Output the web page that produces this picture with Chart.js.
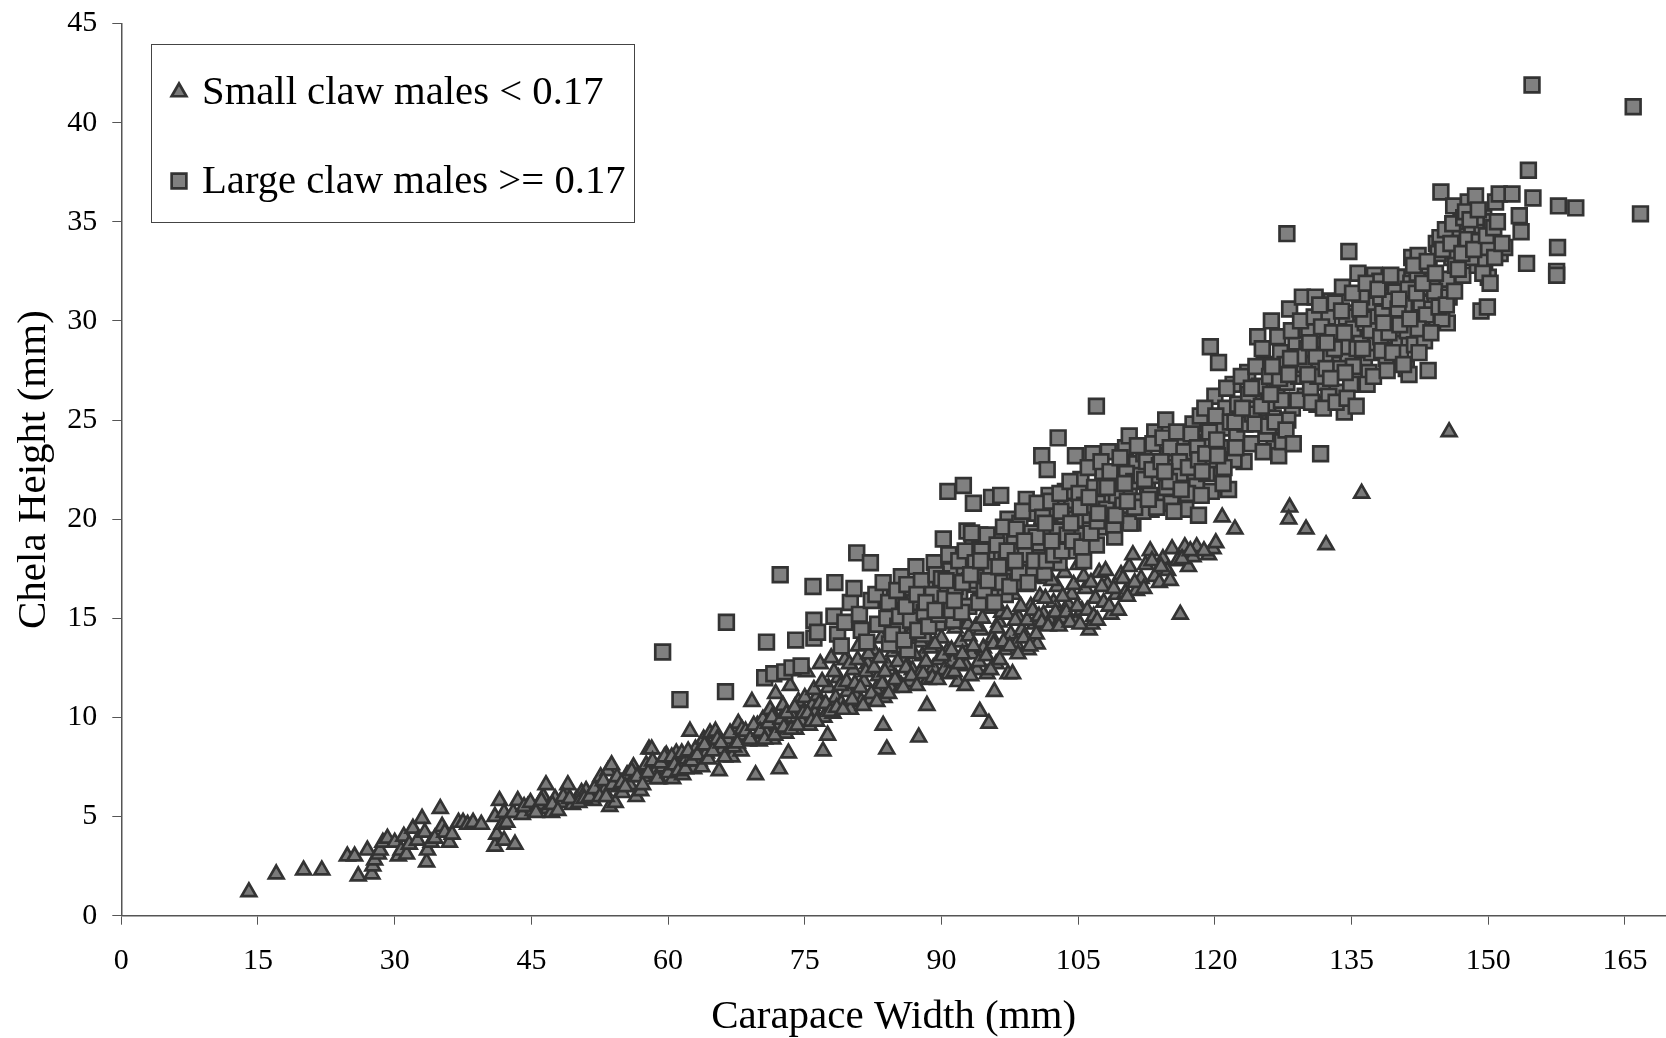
<!DOCTYPE html>
<html>
<head>
<meta charset="utf-8">
<title>Chela height vs carapace width</title>
<script src="https://cdn.jsdelivr.net/npm/chart.js@4/dist/chart.umd.min.js"></script>
<style>
  html, body { margin: 0; padding: 0; background: #fff; overflow: hidden; }
  canvas { display: block; }
</style>
</head>
<body>
<canvas id="claws" width="1666" height="1038"></canvas>
<script>
// Values, [carapace width, chela height]
const smallClaw = [
  [14,1.2],[17,2.1],[20,2.3],[22,2.3],[24.8,3],[25.6,3],[26,2],[27,3.3],[27.5,2.1],[27.6,2.5],[27.8,2.8],[28.2,3.1],[28.4,3.3],[28.7,3.7],[29.2,3.9],[30,3.7],[30.4,3],[30.7,3.3],[31,4],[31.3,3.1],[31.6,3.6],[32,4.4],[32.5,3.8],[33,4.9],[33.3,4.2],[33.5,2.7],[33.6,3.3],[34,3.7],[34.4,3.9],[35,5.4],[35.2,4.5],[35.5,4.2],[36,3.7],[36.3,4.1],[37,4.7],[37.5,4.7],[38,4.6],[38.6,4.7],[39.5,4.6],
  [41,3.5],[41,5],[41.2,4.1],[41.5,5.8],[41.8,4.6],[42,5.2],[42,3.8],[42.3,4.7],[43,5.2],[43.2,3.6],[43.5,5.8],[44,5.1],[44.6,5.5],[45.2,5.3],[45.8,5.6],[46.3,6],[46.6,6.6],[46.8,5.4],[47.2,5.2],[47.6,5.9],[48.2,5.7],[48.8,6.2],[49,6.6],[49.5,5.6],[50,5.9],[50.5,6.2],[51,6.3],
  [51.8,5.8],[52.3,6.6],[52.6,7],[53,6.3],[53.4,7.3],[53.6,5.5],[53.8,7.6],[54.2,5.7],[54.6,6.5],[55,6.2],[55.5,7.1],[55.8,6.6],[56.2,7.5],[56.5,6],[57,6.3],[57.3,7],[57.6,7.6],[57.9,8.4],[58.2,8.4],[58.5,7.2],[59,6.9],[59.4,7.5],[59.8,8.1],[60.2,7.4],[60.5,6.9],[60.9,8.2],[61.2,7.6],[61.6,7.1],[62,7.9],[62.4,9.3],[62.8,7.4],[63,8.4],[63.4,7.8],[63.9,8.9],[64.2,8.2],[64.6,9.2],[65,8.6],[65.2,9.3],[65.6,7.3],[66,8.4],[66.5,8.9],[67,8],[67.4,9.4],[67.7,9.7],[68,8.3],[68.3,9.1],[68.8,8.8],[69.2,10.8],[69.6,7.1],[69.8,9.6],[70,8.8],[70.4,9.9],[70.8,9.2],[71.2,10.4],[71.5,8.9],[71.8,11.2],[72.1,9.6],[72.2,7.4],[72.6,10.6],[72.9,9.2],[73.2,8.2],[73.4,11.6],[73.7,10],[74,9.4],[74.3,10.8],[74.6,9.8],[75,11],[75.2,12.3],[75.5,9.6],[75.8,10.6],[76.1,10.2],[76.4,11.1],[76.7,12.7],[77,8.3],[77.1,10],[77.5,9.1],[77.6,11.5],[77.9,13],[78.1,10.2],[78.4,11],[78.7,12],[79,10.7],[79.4,12.9],[79.7,11.3],[80,10.4],[80.3,12.4],[80.6,11.1],[80.9,13.6],[81.2,10.8],[81.5,11.8],[81.9,12.7],[82.2,10.9],[82.5,13.4],[82.8,11.4],[83.1,12.1],[83.4,14],[83.6,9.6],[83.7,11],[84,8.4],[84.1,12.6],[84.4,11.5],[84.7,13.3],[85,12],[85.3,14.5],[85.6,11.6],[85.9,12.9],[86.2,13.8],[86.5,11.8],[86.8,12.4],[87.1,14.9],[87.5,9],[87.6,12.2],[87.9,13.1],[88.2,14.2],[88.4,10.6],[88.5,11.9],[88.8,13.5],[89.1,12.5],[89.4,15.2],[89.7,12.9],[90,14],[90.3,12.4],[90.6,13.3],[90.9,15.6],[91.2,12.8],[91.5,14.5],[91.8,11.8],[92.1,13.8],[92.4,15],[92.7,12.6],[93,14.1],[93.3,13.2],[93.6,15.9],[93.9,12.4],[94.2,10.3],[94.3,14.4],[94.6,13.5],[95,12.2],[95.2,9.7],[95.3,15.5],[95.6,14],[95.8,11.3],[96,12.7],[96.3,14.8],[96.6,15.3],[97,13.4],[97.3,12.2],[97.6,14.2],[97.9,16.2],[98.2,13.7],[98.5,15],[98.8,14.4],[99.2,16.6],[99.5,13.4],[99.8,15.6],[100.2,14.7],[100.5,13.7],[100.8,16.1],[101.2,15.2],[101.5,17],[101.9,14.9],[102.3,15.8],[102.7,16.6],[103.1,15],[103.5,17.3],[103.9,15.7],[104.3,16.2],[104.7,14.8],[105,17.7],[105.4,15.4],[105.8,16.5],[106.2,14.4],[106.5,14.7],[106.9,16],[107.3,17.3],[107.8,15.8],[108.2,16.7],[108.6,15.2],[109.2,16.2],[109.7,17.2],[110.2,16.3],[110.6,17.6],[111,18.2],[111.4,16.4],[111.9,17],[112.4,17.7],[112.9,18.4],[113.4,17.1],[113.9,16.8],[114.3,18],[114.8,17.4],[115.3,18.5],[115.9,17.9],[116.2,15.2],[116.7,18.6],[117.1,17.6],[117.6,18.1],[118,18.6],[119.3,18.2],[119.8,18.5],[120.1,18.8],[120.8,20.1],[122.2,19.5],[128.2,20.6],[128.1,20],[130,19.5],[132.2,18.7],[136.1,21.3],[145.7,24.4],
  [44.2,5.5],[44.9,5.7],[45.5,5.2],[46.1,5.8],[47.3,5.6],[47.9,5.3],[48.5,6],[49.2,5.9],[50.2,5.7],[50.8,5.9],[51.4,6],[51.9,6.4],[52.5,6],[52.9,6.8],[53.2,6],[53.9,6.6],[54.4,7],[54.9,6.7],[55.3,6.5],[56,7.3],[56.6,7],[57.2,6.6],[57.8,7.2],[58.3,7.8],[58.8,6.9],[59.2,7.7],[59.6,8],[60,7.2],[60.4,8],[60.7,7.6],[61.1,7.3],[61.5,8.2],[61.9,7.4],[62.2,8.3],[62.6,7.8],[63.2,8.1],[63.7,7.5],[64,8.6],[64.4,7.9],[64.9,8.3],[65.4,8.9],[65.8,8.7],[66.2,8],[66.8,9.2],[67.2,8.5],[67.6,8.7],[68.1,9.4],[68.5,9.3],[69,8.9],[69.4,9.6],[70.1,9.3],[70.6,8.9],[71,9.7],[71.4,10],[71.7,9.1],[72.4,9.9],[72.7,9.5],[73,10.2],[73.5,9.4],[73.9,10.5],[74.2,9.6],[74.8,10.2],[75.3,10.2],[75.7,9.8],[76,11.4],[76.3,9.8],[76.6,10.7],[76.9,11.8],[77.3,10.7],[77.8,10.3],[78.2,12.3],[78.5,10.5],[78.9,11.6],[79.2,10.4],[79.6,11.8],[79.9,12.7],[80.2,10.9],[80.5,11.7],[80.8,12.9],[81.1,11.5],[81.4,10.6],[81.7,12.3],[82,13.2],[82.3,11.2],[82.6,12.5],[82.9,10.8],[83.2,13],[83.5,11.7],[83.8,12.3],[84.2,11.2],[84.5,13.8],[84.9,11.9],[85.2,12.8],[85.5,13.5],[85.8,11.5],[86.1,12.5],[86.4,14.1],[86.7,12.1],[87,13.2],[87.3,11.6],[87.7,13.8],[88,12.2],[88.3,12.8],[88.7,14.6],[89,12],[89.3,13.7],[89.6,11.9],[90.1,13.1],[90.4,14.7],[90.8,12.2],[91.1,13.4],[91.4,12.3],[91.7,14.9],[92,12.7],[92.3,13.2],[92.6,11.6],[92.9,14.7],[93.2,12.1],[93.5,13.6],[93.8,14.6],[94.1,12.8],[94.5,15],[94.9,13.1],[95.4,12.4],[95.7,13.7],[96.1,14.5],[96.4,12.9],[96.8,13.8],[97.2,15.2],[97.5,13.6],[97.8,12.2],[98.1,14.9],[98.4,13.2],[98.7,15.6],[99,14],[99.4,14.9],[99.7,13.6],[100,15.4],[100.4,14.2],[100.7,15.1],[101,14.8],[101.4,16],[101.7,14.6],[102.1,16.9],[102.5,15.3],[102.9,14.6],[103.3,16.1],[103.7,15.3],[104.1,14.8],[104.5,16.7],[104.9,15.6],[105.2,14.7],[105.6,17.1],[106,15.4],[106.4,16.8],[106.7,15.1],[107.1,14.9],[107.6,16.6],[108,17.4],[108.4,15.6],[108.9,16.5],[109.4,15.4],[109.9,17],[110.4,16.1],[111.2,16.8],[112.2,16.5],[113.1,17.9],[114.1,17.6],[115.1,16.9],[116.4,18],[117.3,18.4],[118.8,18.4]
];
const largeClaw = [
  [59.4,13.3],[61.3,10.9],[66.3,11.3],[66.4,14.8],[70.6,12],[70.8,13.8],[71.6,12.2],[72.3,17.2],[72.8,12.3],[73.6,12.5],[74,13.9],[74.6,12.6],[75.9,16.6],[76,14],[76,14.9],[76.4,14.3],[78.2,15.1],[78.3,16.8],[78.6,14.2],[79,13.6],[79.4,14.8],[80,15.8],[80.4,16.5],[80.7,18.3],[81,15.2],[81.2,14.4],[81.8,13.8],[82.2,17.8],[82.3,15.9],[82.8,16.2],[83,14.7],[83.6,16.8],[84,15],[84.3,13.7],[84.8,16],[85.2,14.6],[85.6,17.1],[86,15.4],[86.3,13.4],[86.8,16.3],[87.2,17.6],[87.6,15.2],[88,14.2],[88.4,16.8],[88.8,15.6],[89.2,17.8],[89.6,14.8],[89.9,16.5],[90.2,19],[90.7,21.4],[90.7,15.6],[91,17.4],[91.3,14.9],[91.6,18.2],[92,16.2],[92.4,21.7],[92.5,17.6],[92.8,19.4],[93,15.6],[93.5,20.8],[93.4,18.6],[93.8,16.7],[94.2,19.2],[94.5,17.3],[94.8,15.9],[95.2,18.1],[95.5,21.1],[95.6,16.5],[96,19],[96.2,17.2],[96.5,21.2],[96.6,18.3],[97,16.2],[97.3,20],[97.6,17.6],[98,18.9],[98.3,16.8],[98.6,19.8],[99,17.8],[99.3,21],[99.6,18.6],[100,17.2],[100.3,20.3],[100.6,18.2],[101,23.2],[101,19.4],[101.3,17.3],[101.6,22.5],[101.8,21.2],[102.2,18.8],[102.5,20.4],[102.8,24.1],[102.9,17.8],[103.3,19.7],[103.6,21.4],[104,18.4],[104.3,20.6],[104.7,23.2],[105,19.2],[105.3,22],[105.6,17.9],[106,20.2],[106.3,21.2],[106.6,23.3],[107,25.7],[107,18.7],[107.4,20.8],[107.7,22.4],[108,19.6],[108.3,23.4],[108.7,21],[109,19.1],[109.4,22.2],[109.8,20.3],[110.2,23.6],[110.6,24.2],[110.6,21.4],[111,19.8],[111.4,22.8],[111.8,20.9],[112.2,23.3],[112.6,21.7],[113,20.5],[113.4,24.4],[113.8,22.2],[114.2,21.1],[114.6,25],[114.8,23.2],[115.2,20.8],[115.6,22.6],[116,21.6],[116.4,24],[116.8,20.5],[117.2,23.1],[117.6,24.8],[118,21.9],[118.2,20.2],[118.4,25.2],[118.8,22.8],[119.2,23.9],[119.5,28.7],[119.6,21.4],[120,26.2],[120.4,27.9],[120.4,22.4],[120.8,24.6],[121.2,25.6],[121.5,21.5],[121.6,23.5],[122,26.8],[122.4,24.3],[122.8,25.1],[123.2,22.9],[123.6,27.4],[124,23.8],[124.3,26],[124.7,29.2],[125,24.9],[125.4,27.8],[125.8,25.6],[126.2,30],[126.5,23.9],[126.8,26.5],[127,23.2],[127.2,28.4],[127.5,24.7],[127.9,34.4],[127.9,26.9],[128.2,30.6],[128.5,25.6],[128.9,28.8],[129.2,27.2],[129.6,31.2],[129.9,26.2],[130.3,29.6],[130.7,27.7],[131,31.2],[131.2,25.8],[131.6,23.3],[131.6,28.8],[132,26.9],[132.4,30.2],[132.8,31],[133,27.8],[133.4,26.4],[133.8,29.2],[134,31.7],[134.2,25.4],[134.7,33.5],[134.6,28.1],[135,30.4],[135.4,27.1],[135.7,32.4],[136,29.2],[136.4,27.8],[136.8,30.8],[137.2,28.4],[137.5,32.3],[137.8,29.7],[138.2,31.2],[138.6,28.7],[139,30],[139.4,27.9],[139.8,31.5],[140.2,29],[140.6,32.2],[141,27.6],[141.2,30.4],[141.3,28.9],[141.3,27.3],[141.6,33.2],[142,31],[142.3,33.3],[142.7,30],[143.4,27.5],[143.1,31.7],[143.9,32.1],[144.3,33.9],[144.8,36.5],[144.7,34.2],[145.1,31.2],[145.5,29.9],[145.5,32.1],[146,33.2],[146.2,35.8],[146.6,34.4],[147,35],[147.2,32.3],[147.6,33.6],[147.8,36],[148.2,34.5],[148.6,36.3],[148.8,32.8],[149.2,30.5],[149.3,34.8],[149.6,33],[149.9,30.7],[150,32.2],[150.4,34.2],[150.8,36],[151.2,36.4],[151.3,33.4],[151.8,33.7],[152.6,36.4],[153.4,35.3],[153.6,34.5],[154.2,32.9],[154.4,37.6],[154.8,41.9],[154.9,36.2],[157.5,32.5],[157.5,32.3],[157.6,33.7],[157.7,35.8],[159.6,35.7],[165.9,40.8],[166.7,35.4],
  [84.2,15.8],[84.6,14.2],[85.1,16.4],[85.4,15.1],[85.9,13.9],[86.2,16.7],[86.6,14.9],[87,15.8],[87.4,14.4],[87.8,16.9],[88.1,15.3],[88.6,14.6],[89,16.2],[89.4,17.2],[89.7,15.2],[90,17],[90.4,16],[90.8,18.2],[91.1,15.4],[91.5,16.6],[91.9,17.9],[92.2,15.3],[92.6,18.4],[93.1,16.9],[93.3,19.3],[93.7,17.8],[94.1,15.8],[94.4,18.4],[94.7,16.4],[95,19.2],[95.4,17.6],[95.8,15.8],[96.1,18.7],[96.4,16.8],[96.8,19.6],[97.1,17.8],[97.5,16.6],[97.8,18.4],[98.2,19.5],[98.5,17.3],[98.9,20.4],[99.2,18.2],[99.5,16.8],[99.9,19.3],[100.2,17.9],[100.5,20.8],[100.8,18.8],[101.1,20.1],[101.5,17.9],[101.7,19.2],[102,20.9],[102.3,18.2],[102.7,19.4],[103,21.3],[103.2,18.4],[103.5,20.2],[103.8,19.2],[104.1,21.9],[104.4,18.9],[104.7,20],[105.1,21.3],[105.4,18.6],[105.7,20.7],[106.1,22.6],[106.4,19.3],[106.8,21.6],[107.1,19.9],[107.5,22.9],[107.9,21.6],[108.1,20.5],[108.5,22.4],[108.9,19.7],[109.2,21.2],[109.6,23.1],[109.9,20.7],[110.3,22.3],[110.7,19.8],[111.1,21.9],[111.5,23.7],[111.9,22.2],[112.1,20.4],[112.5,22.9],[112.9,21.2],[113.2,23.8],[113.6,20.6],[113.9,22.7],[114.3,24.1],[114.7,21.6],[115.1,23.6],[115.5,20.4],[115.8,24.4],[116.2,22.3],[116.6,23.4],[117,21.3],[117.4,24.3],[117.8,22.4],[118.1,23.6],[118.5,21.2],[118.9,25.6],[119.1,22.3],[119.4,24.4],[119.8,23],[120.1,25.2],[120.6,23.6],[120.9,21.8],[121.3,26.6],[121.7,24.9],[122.1,23],[122.5,25.8],[122.9,27.2],[123.3,24.8],[123.7,26.3],[124.1,25.3],[124.5,27.7],[124.9,26.7],[125.2,28.6],[125.6,24.3],[126,27.2],[126.4,25.1],[126.9,29.2],[127.3,26],[127.7,27.8],[128,25],[128.4,29.5],[128.7,27.6],[129.1,26],[129.4,30],[129.8,27.8],[130.1,28.6],[130.5,26.6],[130.9,30.2],[131.3,27.2],[131.7,29.7],[132.1,28.3],[132.5,26.2],[132.9,29.4],[133.2,30.9],[133.6,27.6],[134.1,28.7],[134.4,30.2],[134.9,26.8],[135.2,29.6],[135.6,28.6],[136.1,31.2],[136.5,29.9],[136.9,27.4],[137.3,30.2],[137.7,28.9],[138.1,32],[138.4,30.4],[138.8,28.1],[139.2,31],[139.6,29.6],[140,32.2],[140.4,28.4],[140.8,30.8],[141.1,29.5],[141.5,31.9],[141.9,28.8],[142.2,32.4],[142.6,30.9],[143,29],[143.5,32.8],[143.8,30.6],[144.1,31.5],[144.5,33.4],[144.9,30.1],[145.3,34.6],[145.7,31.2],[146.1,34.9],[146.4,32.8],[146.8,33.9],[147.3,35.2],[147.7,34.1],[148.1,33.2],[148.5,35.3],[149,34],[149.5,35.2],[150,33.7],[150.3,35],[150.7,33.2],
  [100.4,19.1],[101.4,19.8],[102.1,18.9],[103.1,20.4],[104.2,19.8],[105.2,20.6],[106.2,21.1],[107.2,20.3],[108.2,21.6],[109.1,20.2],[110.1,21.8],[111.2,20.6],[112.3,22],[113.1,22.5],[114.1,22.9],[115,21.9],[116.1,22.9],[117.1,22.6],[118.2,23],[119,23.3],[120.2,24],[121,22.6],[122.2,24.9],[123,25.6],[124,26.6],[125.1,25.7],[126.1,26.3],[127.1,27.1],[128.1,27.3],[129.2,28.2],[130.2,27.3],[131.1,28.2],[132.2,27.6],[133.1,28.6],[134.2,29.4],[135.2,27.7],[136.2,28.6],[137.1,29.5],[138.2,29.2],[139.1,29.4],[140.1,30.6],[141.2,31.6],[142.1,31.4],[143.2,30.3],[86.1,15.6],[87.3,16.2],[88.3,15.8],[89.3,15.4],[90.5,16.9],[91.4,15.9],[92.3,16.8],[93.2,17.2],[94.3,17.9],[95.1,16.9],[96.3,17.6],[97.2,18.4],[98.1,17.9],[99.1,18.9],[110.4,20.9],[112.7,21],[114.5,22.4],[116.3,21.5],[118.6,22.4],[120.3,23.2],[122.3,23.6],[124.4,24.8],[126.3,27.7],[128.3,28.1],[130.4,28.9],[132.3,28.9],[134.3,27.4],[136.3,30.1],[138.3,28.5],[140.3,29.8],[142.3,29.6],
  [125.3,23.4],[125.9,24.7],[126.6,24.9],[127.4,23.9],[127.8,24.5],[128.6,23.8],[130.6,25.9],[131.5,30.8],[131.9,25.6],[132.7,27.1],[133.3,25.9],[133.9,30.5],[134.5,26.1],[135.1,31.4],[135.5,25.7],[135.9,30.6],[136.6,31.9],[136.7,26.8],[137.4,27.2],[137.9,31.6],[138.5,29.9],[138.9,27.5],[139.3,32.3],[139.5,28.4],[140.2,31.1],[140.7,27.8],[141.4,30.1],[141.8,32.8],[142.4,28.4],[142.8,31.9],[143.3,33],[143.7,29.4],[144.2,32.4],[144.6,30.7],[145,33.6],[145.4,30.8],[145.9,33.9],[146.3,31.5],[146.7,32.6],[147.1,33.4],[147.5,35.5],[148,35.1],[148.4,33.6],[148.9,35.6],[149.4,32.4],[149.8,34.3],[150.2,31.9],[150.6,34.7],[151,35],[151.5,33.9]
];
const xTicks = [0, 15, 30, 45, 60, 75, 90, 105, 120, 135, 150, 165];
const yTicks = [0, 5, 10, 15, 20, 25, 30, 35, 40, 45];
const legendLabels = ["Small claw males < 0.17", "Large claw males >= 0.17"];

const serif = '"Liberation Serif", "Times New Roman", serif';
const outline = "#333333";
const triangleFill = "#7a7a7a";
const squareFill = "#808080";
const axisColor = "#555555";

function toPoints(list) {
  return list.map(function (p) {
    return { x: p[0], y: p[1] };
  });
}

// Legend box sits inside the plot, top left
const legendBox = {
  id: "legendBox",
  afterDraw: function (chart) {
    const ctx = chart.ctx;
    ctx.save();
    ctx.fillStyle = "#fff";
    ctx.strokeStyle = "#444";
    ctx.lineWidth = 1;
    ctx.fillRect(151.5, 44.5, 483, 178);
    ctx.strokeRect(151.5, 44.5, 483, 178);
    ctx.fillStyle = "#000";
    ctx.font = "40.7px " + serif;
    ctx.textBaseline = "alphabetic";
    ctx.fillText(legendLabels[0], 202, 104);
    ctx.fillText(legendLabels[1], 202, 193);
    const markers = [
      { style: "triangle", fill: triangleFill, r: 8.5, y: 92 },
      { style: "rect", fill: squareFill, r: 10.4, y: 181 },
    ];
    markers.forEach(function (m) {
      ctx.fillStyle = m.fill;
      ctx.strokeStyle = outline;
      ctx.lineWidth = 2.7;
      Chart.helpers.drawPoint(ctx, { pointStyle: m.style, radius: m.r, rotation: 0, borderWidth: 2.7 }, 179, m.y);
    });
    ctx.restore();
  },
};

new Chart(document.getElementById("claws"), {
  type: "scatter",
  data: {
    datasets: [
      {
        label: legendLabels[1],
        data: toPoints(largeClaw),
        pointStyle: "rect",
        pointRadius: 10.4,
        pointBackgroundColor: squareFill,
        pointBorderColor: outline,
        pointBorderWidth: 2.7,
      },
      {
        label: legendLabels[0],
        data: toPoints(smallClaw),
        pointStyle: "triangle",
        pointRadius: 8.5,
        pointBackgroundColor: triangleFill,
        pointBorderColor: outline,
        pointBorderWidth: 2.7,
      },
    ],
  },
  options: {
    responsive: false,
    animation: false,
    // no automatic padding, the x axis runs off the right edge
    layout: { autoPadding: false, padding: { top: 23.5, right: 0, left: 0, bottom: 0 } },
    plugins: {
      legend: { display: false },
      tooltip: { enabled: false },
    },
    scales: {
      x: {
        type: "linear",
        min: 0,
        max: 169.5,
        afterBuildTicks: function (scale) {
          scale.ticks = xTicks.map(function (v) {
            return { value: v };
          });
        },
        afterFit: function (scale) {
          scale.height = 122.3;
          scale.paddingLeft = 0;
          scale.paddingRight = 0;
        },
        grid: { drawOnChartArea: false, color: axisColor, tickLength: 9 },
        border: { color: axisColor, width: 1.5 },
        ticks: {
          color: "#000",
          font: { family: serif, size: 30 },
          padding: 18,
          maxRotation: 0,
          autoSkip: false,
        },
        title: {
          display: true,
          text: "Carapace Width (mm)",
          color: "#000",
          font: { family: serif, size: 41 },
          padding: { top: 0, bottom: -4 },
        },
      },
      y: {
        min: 0,
        max: 45,
        afterBuildTicks: function (scale) {
          scale.ticks = yTicks.map(function (v) {
            return { value: v };
          });
        },
        afterFit: function (scale) {
          scale.width = 121.3;
          scale.paddingTop = 0;
          scale.paddingBottom = 0;
        },
        grid: { drawOnChartArea: false, color: axisColor, tickLength: 9 },
        border: { color: axisColor, width: 1.5 },
        ticks: {
          color: "#000",
          font: { family: serif, size: 30 },
          padding: 15,
          autoSkip: false,
        },
        title: {
          display: true,
          text: "Chela Height (mm)",
          color: "#000",
          font: { family: serif, size: 41 },
          padding: { top: 10, bottom: 0 },
        },
      },
    },
  },
  plugins: [legendBox],
});
</script>
</body>
</html>
